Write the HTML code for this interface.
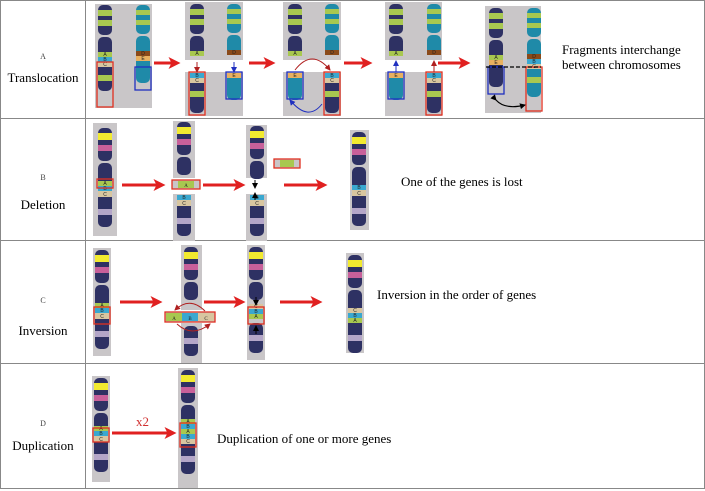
<!DOCTYPE html>
<html><head><meta charset="utf-8"><style>
html,body{margin:0;padding:0;background:#fff;}
#w{position:relative;width:705px;height:491px;overflow:hidden;font-family:"Liberation Serif",serif;}
svg{position:absolute;left:0;top:0;}
.t{position:absolute;font-size:13px;color:#000;white-space:nowrap;line-height:15px;}
.s{position:absolute;font-size:8px;color:#444;width:86px;text-align:center;}
.l{position:absolute;font-size:13px;width:86px;text-align:center;}
</style></head><body><div id="w">
<svg id="g" width="705" height="491" xmlns="http://www.w3.org/2000/svg">
<defs><marker id="ah" markerWidth="4" markerHeight="4" refX="2.5" refY="2" orient="auto" markerUnits="strokeWidth"><path d="M0,0 L4,2 L0,4 L1,2 z" fill="#e02020"/></marker>
<marker id="sa" markerWidth="6" markerHeight="6" refX="5" refY="3" orient="auto" markerUnits="userSpaceOnUse"><path d="M0,0 L6,3 L0,6 z" fill="#000"/></marker>
<marker id="ra" markerWidth="6" markerHeight="6" refX="5" refY="3" orient="auto" markerUnits="userSpaceOnUse"><path d="M0,0 L6,3 L0,6 z" fill="#b02020"/></marker>
<marker id="ba" markerWidth="6" markerHeight="6" refX="5" refY="3" orient="auto" markerUnits="userSpaceOnUse"><path d="M0,0 L6,3 L0,6 z" fill="#2030c0"/></marker></defs>
<g stroke="#888" stroke-width="1" fill="none">
<rect x="0.5" y="0.5" width="704" height="488"/>
<line x1="85.5" y1="0" x2="85.5" y2="489"/>
<line x1="0" y1="118.5" x2="705" y2="118.5"/>
<line x1="0" y1="240.5" x2="705" y2="240.5"/>
<line x1="0" y1="363.5" x2="705" y2="363.5"/>
</g>
</svg>
<div class="s" style="top:52px">A</div><div class="l" style="top:70px">Translocation</div>
<div class="s" style="top:173px">B</div><div class="l" style="top:197px">Deletion</div>
<div class="s" style="top:296px">C</div><div class="l" style="top:323px">Inversion</div>
<div class="s" style="top:419px">D</div><div class="l" style="top:438px">Duplication</div>
<div class="t" style="left:562px;top:42px">Fragments interchange<br>between chromosomes</div>
<div class="t" style="left:401px;top:174px">One of the genes is lost</div>
<div class="t" style="left:377px;top:287px">Inversion in the order of genes</div>
<div class="t" style="left:217px;top:431px">Duplication of one or more genes</div>
<div class="t" style="left:136px;top:414px;color:#d03030">x2</div>
</div>
<script>
var S=document.getElementById('g'),NS='http://www.w3.org/2000/svg';
function el(n,a){var e=document.createElementNS(NS,n);for(var k in a)e.setAttribute(k,a[k]);S.appendChild(e);return e;}
var C={D:'#2e3163',Y:'#f2ea30',P:'#c8609a',L:'#b4a6c8',G:'#a8c850',B:'#3aa8d0',C:'#d8c6a0',T:'#1f8aa8',R:'#8a4a1a',E:'#e8b060',_:null};
function ch(x,y,w,bands){var yy=y,segs=[],cur=null;
bands.forEach(function(b){if(b[0]=='_'){cur=null;}else{if(!cur){cur={y:yy,h:0,base:null};segs.push(cur);}cur.h+=b[1];if((b[0]=='D'||b[0]=='T')&&!cur.base)cur.base=b[0];}yy+=b[1];});
segs.forEach(function(s){el('rect',{x:x,y:s.y,width:w,height:s.h,fill:C[s.base||'D'],rx:5});});
yy=y;bands.forEach(function(b){var c=b[0],h=b[1];if(c!='_'&&c!='D'&&c!='T'){el('rect',{x:x,y:yy,width:w,height:h,fill:C[c]});if(b[2]){var t=el('text',{x:x+w/2,y:yy+h-1,'font-size':5,'text-anchor':'middle','font-family':'Liberation Sans,sans-serif',fill:'#222'});t.textContent=b[2];}}yy+=h;});return yy;}
function bg(x,y,w,h){el('rect',{x:x,y:y,width:w,height:h,fill:'#c9c6c8'});}
function box(x,y,w,h,c){el('rect',{x:x,y:y,width:w,height:h,fill:'none',stroke:c,'stroke-width':1.3});}
function arr(x1,y1,x2){el('line',{x1:x1,y1:y1,x2:x2-6,y2:y1,stroke:'#e02020','stroke-width':3,'marker-end':'url(#ah)'});}
function sm(x1,y1,x2,y2,m,c){el('line',{x1:x1,y1:y1,x2:x2,y2:y2,stroke:c||'#000','stroke-width':1,'marker-end':'url(#'+(m||'sa')+')'});}
function curve(d,c,m){el('path',{d:d,fill:'none',stroke:c,'stroke-width':1,'marker-end':'url(#'+m+')'});}
var LT=[['D',5],['G',6],['D',4],['G',6],['D',9],['_',2],['D',15],['G',5,'A']];
var RT=[['T',5],['G',5],['T',5],['G',5],['T',9],['_',2],['T',15],['R',5,'D']];
var LB=[['B',5,'B'],['C',5,'C'],['D',8],['G',6],['D',10]];
var RB=[['E',5,'E'],['T',22]];
/* Row A */
bg(95,4,57,104);ch(98,5,14,LT.concat(LB));ch(136,5,14,RT.concat(RB));box(97,62,16,45,'#e03020');box(135,67,16,23,'#2030c0');
arr(154,63,182);
bg(185,2,58,58);bg(185,72,58,44);ch(190,4,14,LT);ch(227,4,14,RT);ch(190,73,14,LB.concat([['D',6]]));ch(227,73,14,RB);
box(189,72,16,43,'#e03020');box(226,72,16,27,'#2030c0');sm(197,62,197,72,'ra','#b02020');sm(234,62,234,72,'ba','#2030c0');
arr(249,63,277);
bg(283,2,58,58);bg(283,72,58,44);ch(288,4,14,LT);ch(325,4,14,RT);ch(288,73,14,RB);ch(325,73,14,LB.concat([['D',6]]));
box(287,72,16,27,'#2030c0');box(324,72,16,43,'#e03020');curve('M295,70 Q312,48 330,70','#b02020','ra');curve('M322,104 Q308,122 290,100','#2030c0','ba');
arr(344,63,374);
bg(385,2,57,58);bg(385,72,57,44);ch(389,4,14,LT);ch(427,4,14,RT);ch(389,73,14,RB);ch(427,73,14,LB.concat([['D',6]]));
box(388,72,16,27,'#2030c0');box(426,72,16,43,'#e03020');sm(396,72,396,61,'ba','#2030c0');sm(434,72,434,61,'ra','#b02020');
arr(438,63,472);
bg(485,6,56,107);ch(489,8,14,LT.concat(RB));ch(527,8,14,RT.concat(LB).concat([['D',4]]));
box(488,67,16,27,'#2030c0');box(526,67,16,44,'#e03020');el('line',{x1:486,y1:67,x2:541,y2:67,stroke:'#000','stroke-width':1.2,'stroke-dasharray':'4,2'});
el('path',{d:'M496,100 Q505,110 525,105',fill:'none',stroke:'#000','stroke-width':1.2,'marker-end':'url(#sa)','marker-start':'url(#sa)'});
/* Row B */
var NT=[['D',5],['Y',7],['D',5],['P',6],['D',10],['_',2],['D',18]];
var NB=[['D',12],['L',6],['D',12]];
bg(93,123,24,113);ch(98,128,14,NT.concat([['G',5,'A'],['B',5,'B'],['C',6,'C']]).concat(NB));box(97,179,16,9,'#e03020');
arr(122,185,167);
bg(173,121,22,57);ch(177,122,14,NT);bg(173,194,22,47);ch(177,195,14,[['B',5,'B'],['C',6,'C']].concat(NB));
bg(172,180,28,9);el('rect',{x:178,y:181,width:16,height:7,fill:C.G});box(172,180,28,9,'#e03020');
var t=el('text',{x:186,y:187,'font-size':5,'text-anchor':'middle',fill:'#222'});t.textContent='A';
arr(203,185,247);
bg(246,125,21,53);ch(250,126,14,NT);bg(246,194,21,47);ch(250,195,14,[['B',5,'B'],['C',6,'C']].concat(NB));
sm(255,180,255,188);sm(255,200,255,193);
bg(274,159,26,9);el('rect',{x:280,y:160,width:14,height:7,fill:C.G});box(274,159,26,9,'#e03020');
arr(284,185,329);
bg(350,130,19,100);ch(352,132,14,NT.concat([['B',5,'B'],['C',6,'C']]).concat(NB));
/* Row C */
bg(93,248,18,108);ch(95,250,14,NT.concat([['G',5,'A'],['B',5,'B'],['C',6,'C']]).concat(NB));box(94,307,16,17,'#e03020');
arr(120,302,164);
bg(181,245,21,65);ch(184,247,14,NT);bg(181,323,21,40);ch(184,326,14,NB);
bg(165,312,50,10);el('rect',{x:166,y:313,width:16,height:8,fill:C.G});el('rect',{x:182,y:313,width:16,height:8,fill:C.B});el('rect',{x:198,y:313,width:16,height:8,fill:C.C});box(165,312,50,10,'#e03020');
['A','B','C'].forEach(function(s,i){var t=el('text',{x:174+16*i,y:320,'font-size':5,'text-anchor':'middle',fill:'#222'});t.textContent=s;});
curve('M205,311 Q190,296 175,310','#b02020','ra');curve('M177,324 Q192,338 210,324','#b02020','ra');
arr(204,302,247);
bg(247,245,18,115);ch(249,247,14,NT.concat([['_',4],['C',5,'C'],['B',5,'B'],['G',5,'A'],['_',4]]).concat(NB));box(248,307,16,17,'#e03020');
sm(256,297,256,305);sm(256,334,256,326);
arr(280,302,324);
bg(346,253,18,100);ch(348,255,14,NT.concat([['C',5,'C'],['B',5,'B'],['G',5,'A']]).concat(NB));
/* Row D */
bg(92,376,18,106);ch(94,378,14,NT.slice(0,6).concat([['D',13],['G',5,'A'],['B',5,'B'],['C',6,'C']]).concat(NB));box(93,428,16,14,'#e03020');
arr(112,433,178);
bg(178,368,20,120);ch(181,370,14,NT.slice(0,6).concat([['D',14],['G',5,'A'],['B',5,'B'],['G',5,'A'],['B',5,'B'],['C',5,'C']]).concat(NB));
box(180,423,16,24,'#e03020');
</script>
</body></html>
